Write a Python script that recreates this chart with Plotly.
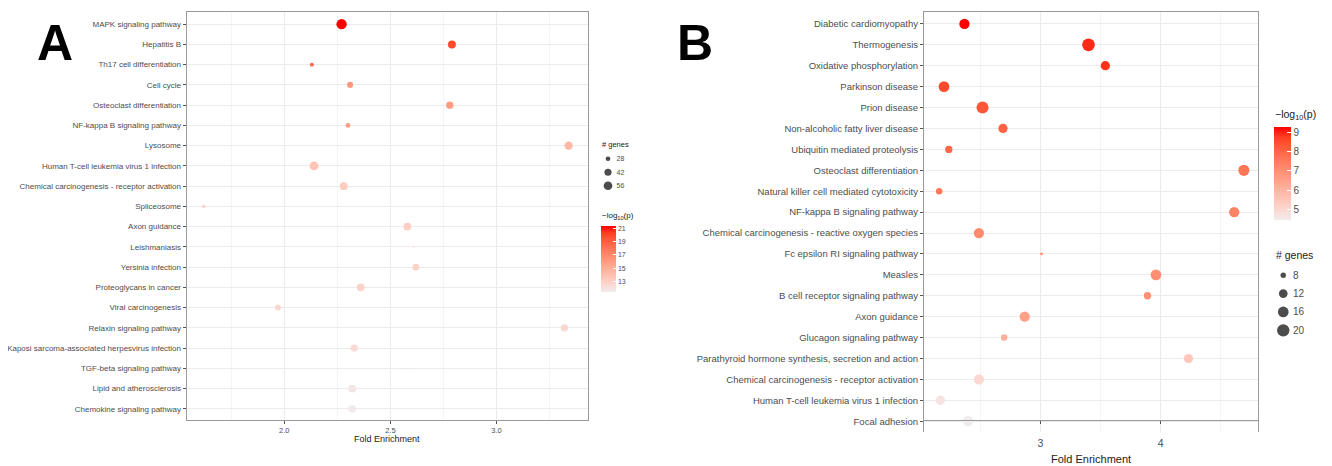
import numpy as np
import plotly.graph_objects as go

# ---------------- data ----------------
a_pathways = ["MAPK signaling pathway", "Hepatitis B", "Th17 cell differentiation", "Cell cycle",
              "Osteoclast differentiation", "NF-kappa B signaling pathway", "Lysosome",
              "Human T-cell leukemia virus 1 infection", "Chemical carcinogenesis - receptor activation",
              "Spliceosome", "Axon guidance", "Leishmaniasis", "Yersinia infection",
              "Proteoglycans in cancer", "Viral carcinogenesis", "Relaxin signaling pathway",
              "Kaposi sarcoma-associated herpesvirus infection", "TGF-beta signaling pathway",
              "Lipid and atherosclerosis", "Chemokine signaling pathway"]
a_fold = [2.27, 2.79, 2.13, 2.31, 2.78, 2.30, 3.34, 2.14, 2.28, 1.62,
          2.58, 2.61, 2.62, 2.36, 1.97, 3.32, 2.33, 2.58, 2.32, 2.32]
a_genes = [73, 49, 25, 35, 44, 28, 52, 56, 49, 23, 47, 21, 39, 49, 35, 44, 44, 21, 49, 49]
a_logp = [21.45, 19.9, 18.9, 16.2, 16.0, 15.9, 14.4, 13.7, 13.3, 13.2,
          13.1, 13.0, 12.9, 12.8, 12.6, 12.5, 12.4, 12.2, 11.7, 11.4]

b_pathways = ["Diabetic cardiomyopathy", "Thermogenesis", "Oxidative phosphorylation", "Parkinson disease",
              "Prion disease", "Non-alcoholic fatty liver disease", "Ubiquitin mediated proteolysis",
              "Osteoclast differentiation", "Natural killer cell mediated cytotoxicity",
              "NF-kappa B signaling pathway", "Chemical carcinogenesis - reactive oxygen species",
              "Fc epsilon RI signaling pathway", "Measles", "B cell receptor signaling pathway",
              "Axon guidance", "Glucagon signaling pathway",
              "Parathyroid hormone synthesis, secretion and action",
              "Chemical carcinogenesis - receptor activation", "Human T-cell leukemia virus 1 infection",
              "Focal adhesion"]
b_fold = [2.37, 3.40, 3.54, 2.20, 2.52, 2.69, 2.24, 4.69, 2.16, 4.61,
          2.49, 3.01, 3.96, 3.89, 2.87, 2.70, 4.23, 2.49, 2.17, 2.40]
b_genes = [15, 21, 13, 16, 19, 13, 10, 17, 9, 15, 15, 7, 16, 10, 15, 9, 13, 15, 13, 15]
b_logp = [9.25, 8.9, 8.85, 8.5, 8.3, 8.1, 7.95, 7.6, 7.55, 7.3,
          7.1, 7.05, 7.0, 6.95, 6.5, 6.1, 5.5, 5.0, 4.7, 4.45]

a_size_breaks = [28, 42, 56]
b_size_breaks = [8, 12, 16, 20]
a_color_ticks = [13, 15, 17, 19, 21]
b_color_ticks = [5, 6, 7, 8, 9]
a_x_ticks = [2.0, 2.5, 3.0]
a_x_ticktext = ["2.0", "2.5", "3.0"]
b_x_ticks = [3, 4]
b_x_ticktext = ["3", "4"]

# ---------------- helpers ----------------
OFF = 8                      # page body margin
W, H = 1332 - OFF, 466 - OFF
def px(x): return (x - OFF) / W
def py(y): return 1 - (y - OFF) / H

FONT = "Liberation Sans, Arial, sans-serif"

def _lin(c):
    c = c / 255.0
    return np.where(c <= 0.04045, c / 12.92, ((c + 0.055) / 1.055) ** 2.4)

def _delin(c):
    c = np.where(c <= 0.0031308, 12.92 * c, 1.055 * np.power(np.clip(c, 0, None), 1 / 2.4) - 0.055)
    return np.clip(np.round(c * 255), 0, 255).astype(int)

M = np.array([[0.4124, 0.3576, 0.1805], [0.2126, 0.7152, 0.0722], [0.0193, 0.1192, 0.9505]])
Minv = np.linalg.inv(M)
WP = np.array([0.95047, 1.0, 1.08883])

def hex2lab(h):
    rgb = np.array([int(h[i:i + 2], 16) for i in (1, 3, 5)], dtype=float)
    xyz = M @ _lin(rgb) / WP
    f = np.where(xyz > 216 / 24389, np.cbrt(xyz), (24389 / 27 * xyz + 16) / 116)
    return np.array([116 * f[1] - 16, 500 * (f[0] - f[1]), 200 * (f[1] - f[2])])

def lab2hex(lab):
    L, a, b = lab
    fy = (L + 16) / 116
    fx = fy + a / 500
    fz = fy - b / 200
    f = np.array([fx, fy, fz])
    xyz = np.where(f ** 3 > 216 / 24389, f ** 3, (116 * f - 16) / (24389 / 27)) * WP
    rgb = _delin(Minv @ xyz)
    return "#%02x%02x%02x" % tuple(rgb)

def lab_scale(low, high, n=11):
    l0, l1 = hex2lab(low), hex2lab(high)
    return [[i / (n - 1), lab2hex(l0 + (l1 - l0) * i / (n - 1))] for i in range(n)]

CSCALE = lab_scale("#F1EBEC", "#FF0000")

def size_px(v, vmin, vmax, dmin, dmax):
    v = np.asarray(v, dtype=float)
    t = np.clip((v - vmin) / (vmax - vmin), 0, 1)
    return dmin + np.sqrt(t) * (dmax - dmin)

a_vmin, a_vmax = min(a_genes), max(a_genes)
b_vmin, b_vmax = min(b_genes), max(b_genes)
def a_size(v): return size_px(v, a_vmin, a_vmax, 1.5, 10.3)
def b_size(v): return size_px(v, b_vmin, b_vmax, 2.7, 12.7)

# ---------------- figure ----------------
fig = go.Figure()

fig.add_trace(go.Scatter(
    x=a_fold, y=a_pathways, mode="markers", xaxis="x", yaxis="y",
    marker=dict(size=a_size(a_genes), color=a_logp, coloraxis="coloraxis", line=dict(width=0), opacity=1),
    showlegend=False, hovertemplate="%{y}<br>Fold: %{x}<extra></extra>"))

fig.add_trace(go.Scatter(
    x=b_fold, y=b_pathways, mode="markers", xaxis="x2", yaxis="y2",
    marker=dict(size=b_size(b_genes), color=b_logp, coloraxis="coloraxis2", line=dict(width=0), opacity=1),
    showlegend=False, hovertemplate="%{y}<br>Fold: %{x}<extra></extra>"))

# size legends drawn on small helper axes
fig.add_trace(go.Scatter(
    x=[0] * len(a_size_breaks), y=[str(v) for v in a_size_breaks], mode="markers",
    xaxis="x3", yaxis="y3", marker=dict(size=a_size(a_size_breaks), color="black", line=dict(width=0)),
    showlegend=False, hoverinfo="skip"))
fig.add_trace(go.Scatter(
    x=[0] * len(b_size_breaks), y=[str(v) for v in b_size_breaks], mode="markers",
    xaxis="x4", yaxis="y4", marker=dict(size=b_size(b_size_breaks), color="black", line=dict(width=0)),
    showlegend=False, hoverinfo="skip"))

BORDER = "#9A9A9A"
GRID = "#EBEBEB"
MINOR = "#F4F4F4"

def main_x(domain, rng, tv, tt, minor_vals, fsize, standoff):
    return dict(domain=domain, range=rng, tickvals=tv, ticktext=tt,
                showgrid=True, gridcolor=GRID, gridwidth=1,
                minor=dict(tickvals=minor_vals, showgrid=True, gridcolor=MINOR, gridwidth=0.7, ticks=""),
                showline=True, mirror=True, linecolor=BORDER, linewidth=1.2,
                ticks="outside", ticklen=3, tickcolor="#555555", tickwidth=1,
                ticklabelstandoff=standoff,
                tickfont=dict(family=FONT, size=fsize, color="#4D4D4D"), zeroline=False, fixedrange=True)

def main_y(domain, cats, rng, fsize, anchor):
    return dict(domain=domain, type="category", categoryorder="array", categoryarray=cats, range=rng,
                showgrid=True, gridcolor=GRID, gridwidth=1,
                showline=True, mirror=True, linecolor=BORDER, linewidth=1.2,
                ticks="outside", ticklen=3, tickcolor="#555555", tickwidth=1,
                tickfont=dict(family=FONT, size=fsize, color="#4D4D4D"), zeroline=False,
                anchor=anchor, fixedrange=True)

def legend_axes(xdom, ydom, cats, fsize, anchor):
    xa = dict(domain=xdom, range=[-1, 1], visible=False, fixedrange=True, anchor=anchor[1])
    ya = dict(domain=ydom, type="category", categoryorder="array", categoryarray=cats,
              range=[len(cats) - 0.5, -0.5], side="right", anchor=anchor[0],
              showgrid=False, showline=False, zeroline=False, ticks="",
              tickfont=dict(family=FONT, size=fsize, color="#4D4D4D"), fixedrange=True)
    return xa, ya

xa3, ya3 = legend_axes([px(600.5), px(615.5)], [py(192.5), py(152)], [str(v) for v in a_size_breaks], 7, ("x3", "y3"))
xa4, ya4 = legend_axes([px(1274.5), px(1292)], [py(339.5), py(266)], [str(v) for v in b_size_breaks], 10, ("x4", "y4"))

fig.update_layout(
    width=W, height=H, margin=dict(l=0, r=0, t=0, b=0),
    paper_bgcolor="white", plot_bgcolor="white",
    font=dict(family=FONT),
    xaxis=main_x([px(186.7), px(587.7)], [1.54, 3.43], a_x_ticks, a_x_ticktext, [1.75, 2.25, 2.75, 3.25], 7.5, 0),
    yaxis=main_y([py(420), py(12)], a_pathways, [19.55, -0.6], 8, "x"),
    xaxis2=main_x([px(924), px(1258.3)], [2.034, 4.81], b_x_ticks, b_x_ticktext, [2.5, 3.5, 4.5], 10.5, 10),
    yaxis2=main_y([py(431.7), py(12)], b_pathways, [19.5, -0.57], 9.5, "x2"),
    xaxis3=xa3, yaxis3=ya3, xaxis4=xa4, yaxis4=ya4,
    coloraxis=dict(cmin=min(a_logp), cmax=max(a_logp), colorscale=CSCALE,
                   colorbar=dict(x=px(601), xanchor="left", y=py(225.7), yanchor="top",
                                 len=66, lenmode="pixels", thickness=14.5, thicknessmode="pixels",
                                 xpad=0, ypad=0, outlinewidth=0, tickvals=a_color_ticks,
                                 ticks="inside", ticklen=3, tickcolor="white",
                                 tickfont=dict(family=FONT, size=7, color="#4D4D4D"))),
    coloraxis2=dict(cmin=min(b_logp), cmax=max(b_logp), colorscale=CSCALE,
                    colorbar=dict(x=px(1274.3), xanchor="left", y=py(127.3), yanchor="top",
                                  len=92.7, lenmode="pixels", thickness=17.4, thicknessmode="pixels",
                                  xpad=0, ypad=0, outlinewidth=0, tickvals=b_color_ticks,
                                  ticks="inside", ticklen=3.5, tickcolor="white",
                                  tickfont=dict(family=FONT, size=10, color="#4D4D4D"))),
)

def ann(text, x, y, size, color="#1A1A1A", xanchor="left"):
    fig.add_annotation(text=text, x=px(x), y=py(y), xref="paper", yref="paper",
                       xanchor=xanchor, yanchor="middle", showarrow=False,
                       font=dict(family=FONT, size=size, color=color))

ann("<b>A</b>", 55, 43.5, 50, color="black", xanchor="center")
ann("<b>B</b>", 695, 43, 50, color="black", xanchor="center")
ann("Fold Enrichment", 386.7, 439, 9, xanchor="center")
ann("Fold Enrichment", 1091, 459, 11, xanchor="center")
ann("# genes", 600, 144, 7.5)
ann("−log<sub>10</sub>(p)", 600, 216, 8)
ann("# genes", 1274, 255, 10.5)
ann("−log<sub>10</sub>(p)", 1272.5, 115, 10.5)

fig.write_html("out.html")
